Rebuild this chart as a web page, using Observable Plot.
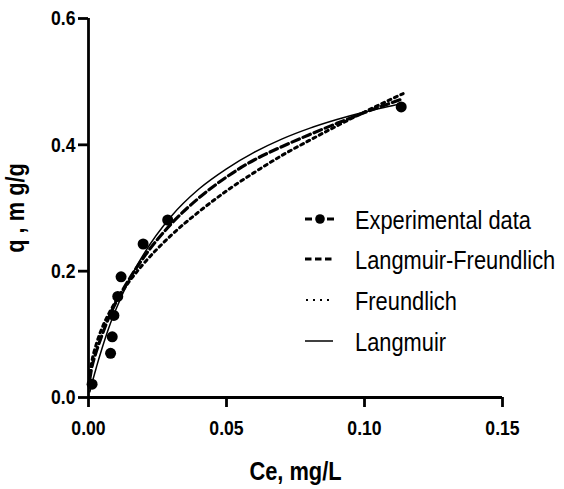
<!DOCTYPE html>
<html><head><meta charset="utf-8">
<script src="https://cdn.jsdelivr.net/npm/d3@7"></script>
<script src="https://cdn.jsdelivr.net/npm/@observablehq/plot@0.6"></script>
<style>
html,body{margin:0;padding:0;background:#fff;}
#wrap{position:relative;width:564px;height:489px;}
#wrap svg{position:absolute;left:0;top:0;}
</style></head><body><div id="wrap"></div>
<script>
// Experimental data
const ceExp = [0.0013, 0.0080, 0.0086, 0.0092, 0.0106, 0.0118, 0.0198, 0.0287, 0.1133];
const qExp  = [0.021, 0.070, 0.096, 0.130, 0.160, 0.191, 0.243, 0.281, 0.460];
// Fitted curves
const ceFit       = [0.0005,0.001,0.003,0.005,0.0075,0.01,0.015,0.02,0.03,0.04,0.05,0.06,0.07,0.08,0.09,0.10,0.11,0.114];
const qLangmuir   = [0.009,0.018,0.050,0.079,0.112,0.140,0.188,0.227,0.287,0.330,0.362,0.388,0.409,0.426,0.440,0.452,0.462,0.466];
const qFreundlich = [0.038,0.052,0.087,0.111,0.134,0.153,0.185,0.212,0.257,0.294,0.327,0.356,0.383,0.407,0.430,0.452,0.473,0.481];
const qLangFreund = [0.030,0.043,0.075,0.100,0.128,0.151,0.189,0.222,0.275,0.316,0.349,0.376,0.397,0.416,0.434,0.451,0.467,0.473];
const xTicks = [0, 0.05, 0.10, 0.15];
const yTicks = [0, 0.2, 0.4, 0.6];
const legendLabels = ["Experimental data","Langmuir-Freundlich","Freundlich","Langmuir"];
const xLabel = "Ce, mg/L";
const yLabel = "q , m g/g";

const FONT = '"Liberation Sans", Arial, Helvetica, sans-serif';
const rows = ys => ceFit.map((c,i)=>({c, q: ys[i]}));
const exp = ceExp.map((c,i)=>({c, q: qExp[i]}));

const chart = Plot.plot({
  width:564, height:489, marginLeft:88, marginRight:62, marginTop:18, marginBottom:92,
  style:{fontFamily:FONT, fontSize:"21px", fontWeight:"bold", color:"#000", background:"#fff", overflow:"visible"},
  x:{domain:[0,0.15], ticks:xTicks, tickFormat:d3.format(".2f"), tickSize:10, tickPadding:13, label:null},
  y:{domain:[0,0.6], ticks:yTicks, tickFormat:d3.format(".1f"), tickSize:10, tickPadding:3, label:null},
  marks:[
    Plot.ruleX([0], {y1:0, y2:0.6, strokeWidth:2.8}),
    Plot.ruleY([0], {x1:0, x2:0.15, strokeWidth:2.8}),
    Plot.line(rows(qLangmuir),   {x:"c", y:"q", curve:"monotone-x", stroke:"black", strokeWidth:1.5}),
    Plot.line(rows(qLangFreund), {x:"c", y:"q", curve:"monotone-x", stroke:"black", strokeWidth:3.2, strokeDasharray:"8,4"}),
    Plot.line(rows(qFreundlich), {x:"c", y:"q", curve:"monotone-x", stroke:"black", strokeWidth:3, strokeDasharray:"3,4"}),
    Plot.dot(exp, {x:"c", y:"q", r:5.5, fill:"black", stroke:"none"}),
    Plot.text([xLabel], {text:d=>d, frameAnchor:"bottom", textAnchor:"middle", dy:74, lineAnchor:"middle", fontSize:26, fontWeight:"bold", fill:"black"}),
    Plot.text([yLabel], {text:d=>d, frameAnchor:"left", textAnchor:"middle", dx:-73, rotate:-90, lineAnchor:"middle", fontSize:26, fontWeight:"bold", fill:"black"})
  ]
});
const wrap = document.getElementById("wrap");
wrap.appendChild(chart);

// heavier axis ticks
d3.select(chart).selectAll('[aria-label*="axis"] line, [aria-label*="axis"] path')
  .style("stroke-width", "2.8px").style("stroke", "black");
// tick label font
d3.select(chart).selectAll("text").filter(function(){ return /^\d\.\d+$/.test(this.textContent.trim()); })
  .style("font-size", "21px").style("font-weight", "bold").style("font-family", FONT).style("fill", "black");

// Legend overlay
const leg = d3.select(wrap).append("svg").attr("width",564).attr("height",489)
  .style("font-family", FONT).style("overflow","visible");
const rowY = [219, 259, 300, 341];
legendLabels.forEach((lab, i) => {
  const g = leg.append("g").attr("transform", `translate(0,${rowY[i]})`);
  if (i === 0) {
    g.append("line").attr("x1",305).attr("x2",334).attr("stroke","black").attr("stroke-width",3).attr("stroke-dasharray","7,15");
    g.append("circle").attr("cx",320).attr("cy",0).attr("r",4.8).attr("fill","black");
  } else if (i === 1) {
    g.append("line").attr("x1",305).attr("x2",332).attr("stroke","black").attr("stroke-width",3.2).attr("stroke-dasharray","6.5,3.5");
  } else if (i === 2) {
    g.append("line").attr("x1",306).attr("x2",331).attr("stroke","black").attr("stroke-width",2).attr("stroke-dasharray","2,5");
  } else {
    g.append("line").attr("x1",305).attr("x2",333).attr("stroke","black").attr("stroke-width",1.5);
  }
  g.append("text").attr("transform","translate(355,9.5)").style("font-size","26px").style("font-weight","normal").attr("fill","black").text(lab);
});

// condense glyphs horizontally (the original uses a narrow typeface)
const SX = 0.84;
d3.select(wrap).selectAll("text").each(function(){
  const x = parseFloat(this.getAttribute("x")) || 0;
  const y = parseFloat(this.getAttribute("y")) || 0;
  const tr = this.getAttribute("transform") || "";
  this.setAttribute("transform", `${tr} translate(${x},${y}) scale(${SX},1) translate(${-x},${-y})`);
});
</script></body></html>
